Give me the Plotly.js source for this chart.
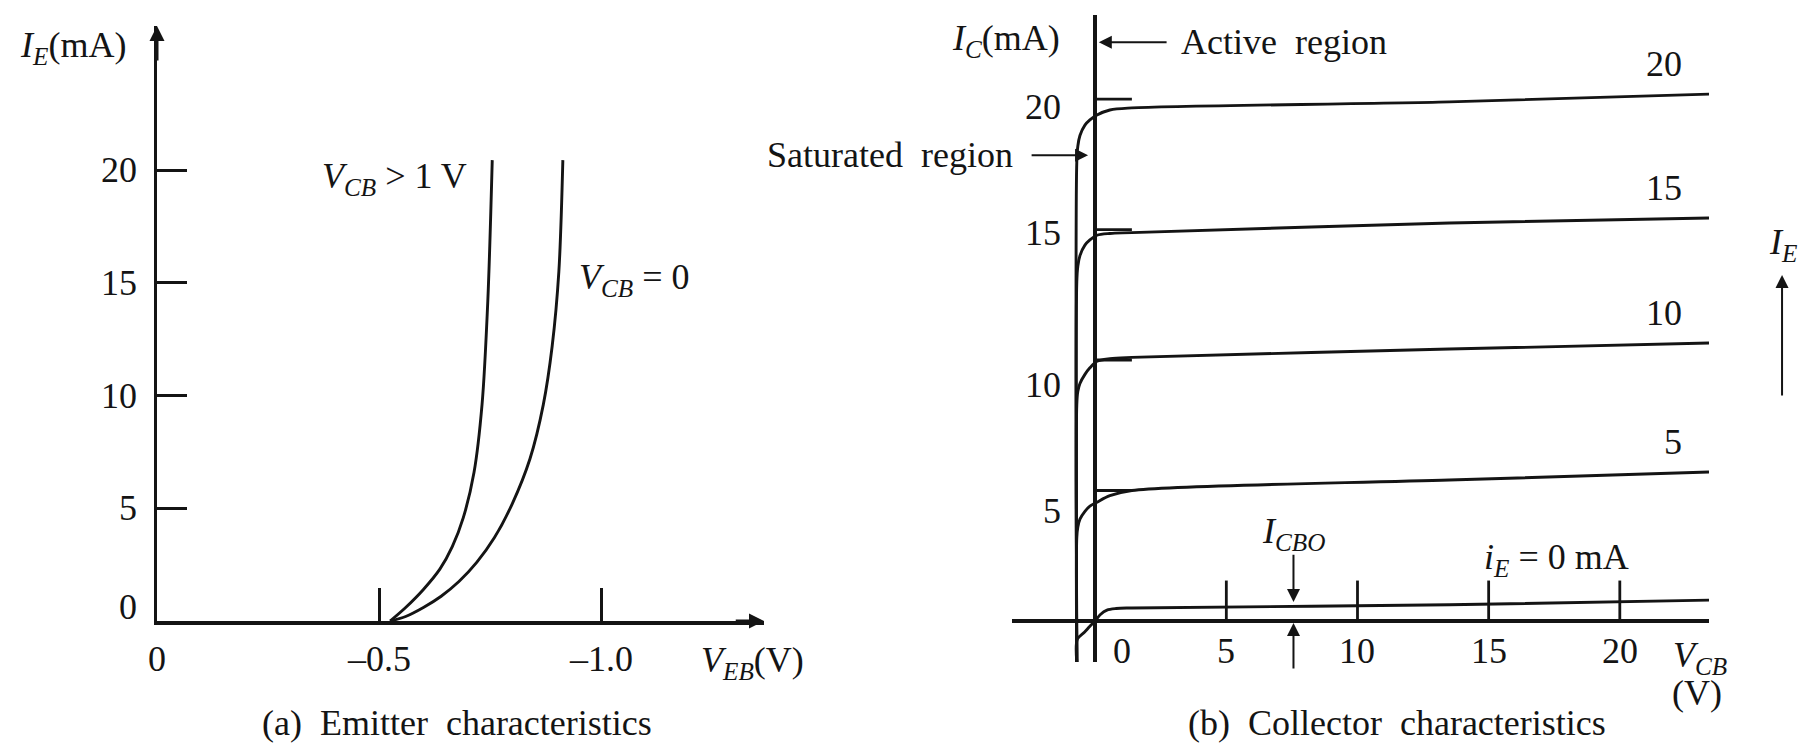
<!DOCTYPE html>
<html>
<head>
<meta charset="utf-8">
<script src="https://cdn.plot.ly/plotly-3.0.1.min.js"></script>
<style>
  html, body { margin: 0; padding: 0; background: #ffffff; }
  #chart { width: 1809px; height: 744px; }
</style>
</head>
<body>
<div id="chart"></div>
<script>
// ---------- (a) Emitter characteristics: I_E (mA) against V_EB (V) ----------
const vebActive = [-0.525, -0.56, -0.60, -0.637, -0.665, -0.69, -0.714, -0.732, -0.745, -0.755];
const ieActive  = [0, 0.6, 1.4, 2.3, 3.3, 4.6, 6.6, 9.6, 14.2, 20.45];
const vebZero   = [-0.525, -0.56, -0.60, -0.64, -0.68, -0.72, -0.76, -0.80, -0.84, -0.87, -0.89, -0.905, -0.914];
const ieZero    = [0, 0.2, 0.6, 1.1, 1.75, 2.6, 3.7, 5.2, 7.2, 9.6, 12.2, 15.5, 20.45];
const vebTicks    = [0, -0.5, -1.0];
const vebTickText = ['0', '–0.5', '–1.0'];
const ieTicks     = [0, 5, 10, 15, 20];

// ---------- (b) Collector characteristics: I_C (mA) against V_CB (V) ----------
const vcbCurve = [-0.7, -0.7, -0.66, -0.58, -0.39, -0.2, 0.07, 0.56, 1.4, 13.5, 23.4];
const icIE20   = [-1.57, 17.6, 18.2, 18.6, 19.0, 19.2, 19.39, 19.58, 19.66, 19.89, 20.19];
const icIE15   = [-1.57, 13.0, 13.6, 14.0, 14.4, 14.6, 14.78, 14.85, 14.88, 15.25, 15.44];
const icIE10   = [-1.57, 8.3, 8.8, 9.1, 9.45, 9.7, 9.95, 10.05, 10.1, 10.42, 10.65];
const icIE5    = [-1.57, 3.2, 3.6, 3.9, 4.2, 4.4, 4.55, 4.8, 5.0, 5.4, 5.71];
const vcbCutoff = [-0.7, -0.68, -0.4, -0.2, 0.0, 0.2, 0.45, 0.8, 1.4, 13.5, 23.4];
const icIE0     = [-1.57, -0.7, -0.42, -0.2, 0.0, 0.25, 0.42, 0.48, 0.5, 0.62, 0.8];
const emitterLevels = ['20', '15', '10', '5'];
const vcbTicks  = [0, 5, 10, 15, 20];
const icTicks   = [20, 15, 10, 5];
const icboVcb   = 7.56;

const INK = '#141414';
const FONT = { family: '"Liberation Serif", "Times New Roman", serif', size: 36, color: INK };

function curve(x, y, xa, ya) {
  return { x: x, y: y, xaxis: xa, yaxis: ya, type: 'scatter', mode: 'lines',
           line: { color: INK, width: 2.9, shape: 'spline', smoothing: 0.9 },
           hoverinfo: 'skip', showlegend: false };
}

// short tick marks on the collector axes, built as broken line segments
function tickSegments(vals, along, len) {
  const xs = [], ys = [];
  vals.forEach(v => {
    if (along === 'x') { xs.push(v, v, null); ys.push(0, len, null); }
    else { xs.push(0, len, null); ys.push(v, v, null); }
  });
  return { x: xs, y: ys };
}
const vTicks = tickSegments(vcbTicks.filter(v => v > 0), 'x', 1.55);
const hTicks = tickSegments(icTicks, 'y', 1.4);

const data = [
  curve(vebActive, ieActive, 'x', 'y'),
  curve(vebZero, ieZero, 'x', 'y'),
  curve(vcbCurve, icIE20, 'x2', 'y2'),
  curve(vcbCurve, icIE15, 'x2', 'y2'),
  curve(vcbCurve, icIE10, 'x2', 'y2'),
  curve(vcbCurve, icIE5, 'x2', 'y2'),
  curve(vcbCutoff, icIE0, 'x2', 'y2'),
  { x: vTicks.x, y: vTicks.y, xaxis: 'x2', yaxis: 'y2', mode: 'lines', connectgaps: false,
    line: { color: INK, width: 2.8 }, hoverinfo: 'skip', showlegend: false },
  { x: hTicks.x, y: hTicks.y, xaxis: 'x2', yaxis: 'y2', mode: 'lines', connectgaps: false,
    line: { color: INK, width: 2.8 }, hoverinfo: 'skip', showlegend: false }
];

const ann = [];
function text(t, props) {
  ann.push(Object.assign({ text: t, showarrow: false, font: FONT,
                           xanchor: 'center', yanchor: 'middle' }, props));
}
function arrow(props) {
  ann.push(Object.assign({ text: '', showarrow: true, arrowhead: 2, arrowsize: 1,
                           arrowwidth: 3, arrowcolor: INK, standoff: 0 }, props));
}

// (a) tick labels
ieTicks.forEach(v => text(String(v), { xref: 'x', yref: 'y', x: 0, y: v, xanchor: 'right',
                                       xshift: -18, yshift: v === 0 ? 14 : 0 }));
vebTicks.forEach((v, i) => text(vebTickText[i], { xref: 'x', yref: 'y', x: v, y: 0, yshift: -38 }));
// (a) axis titles, curve labels, caption
text('<i>I<sub>E</sub></i>(mA)', { xref: 'paper', yref: 'paper', x: 0.0405, y: 0.9368 });
text('<i>V<sub>EB</sub></i>(V)', { xref: 'paper', yref: 'paper', x: 0.4157, y: 0.1090 });
text('<i>V<sub>CB</sub></i> &gt; 1 V', { xref: 'paper', yref: 'paper', x: 0.2590, y: 0.760, xanchor: 'right' });
text('<i>V<sub>CB</sub></i> = 0', { xref: 'paper', yref: 'paper', x: 0.3510, y: 0.6237 });
text('(a)  Emitter  characteristics', { xref: 'paper', yref: 'paper', x: 0.2526, y: 0.0282 });
// (a) axis arrowheads
arrow({ xref: 'x', yref: 'y', axref: 'x', ayref: 'y', x: 0, y: 26.4, ax: 0, ay: 24.8 });
arrow({ xref: 'x', yref: 'y', axref: 'x', ayref: 'y', x: -1.367, y: 0, ax: -1.30, ay: 0 });

// (b) tick labels, each set just under its level
const icLabelDrop = [-8, -3, -25, -20];
icTicks.forEach((v, i) => text(String(v), { xref: 'x2', yref: 'y2', x: 0, y: v, xanchor: 'right',
                                            xshift: -32, yshift: icLabelDrop[i] }));
vcbTicks.forEach(v => text(String(v), { xref: 'x2', yref: 'y2', x: v, y: 0, yshift: -30,
                                        xshift: v === 0 ? 27 : 0 }));
// (b) curve labels for each emitter current
const curveEnds = [icIE20, icIE15, icIE10, icIE5];
emitterLevels.forEach((lbl, i) => {
  const ys = curveEnds[i];
  text(lbl, { xref: 'x2', yref: 'y2', x: 22.45, y: ys[ys.length - 1], xanchor: 'right', yshift: 30 });
});
text('<i>i<sub>E</sub></i> = 0 mA', { xref: 'x2', yref: 'y2', x: 17.6, y: 2.34 });
text('<i>I<sub>CBO</sub></i>', { xref: 'x2', yref: 'y2', x: icboVcb, y: 3.37 });
arrow({ xref: 'x2', yref: 'y2', axref: 'x2', ayref: 'y2', x: icboVcb, y: 0.73, ax: icboVcb, ay: 2.6,
        arrowwidth: 2, arrowsize: 1.3 });
arrow({ xref: 'x2', yref: 'y2', axref: 'x2', ayref: 'y2', x: icboVcb, y: -0.08, ax: icboVcb, ay: -1.88,
        arrowwidth: 2, arrowsize: 1.3 });
// (b) axis titles and region notes
text('<i>I<sub>C</sub></i>(mA)', { xref: 'paper', yref: 'paper', x: 0.5560, y: 0.9462 });
text('<i>V<sub>CB</sub></i>', { xref: 'paper', yref: 'paper', x: 0.9398, y: 0.1156 });
text('(V)', { xref: 'paper', yref: 'paper', x: 0.9381, y: 0.0685 });
text('Active  region', { xref: 'paper', yref: 'paper', x: 0.652, y: 0.9435, xanchor: 'left' });
arrow({ xref: 'x2', yref: 'y2', axref: 'x2', ayref: 'y2', x: 0.14, y: 22.18, ax: 2.78, ay: 22.18,
        arrowwidth: 2, arrowsize: 1.3 });
text('Saturated  region', { xref: 'paper', yref: 'paper', x: 0.5611, y: 0.7917, xanchor: 'right' });
arrow({ xref: 'x2', yref: 'y2', axref: 'x2', ayref: 'y2', x: -0.27, y: 17.85, ax: -2.48, ay: 17.85,
        arrowwidth: 2, arrowsize: 1.3 });
text('<i>I<sub>E</sub></i>', { xref: 'paper', yref: 'paper', x: 0.9856, y: 0.6707 });
arrow({ xref: 'paper', yref: 'paper', x: 0.9851, y: 0.6304, ax: 0, ay: 122,
        arrowwidth: 2, arrowsize: 1.3 });
text('(b)  Collector  characteristics', { xref: 'paper', yref: 'paper', x: 0.7723, y: 0.0282 });

const hidden = { showgrid: false, showticklabels: false, fixedrange: true };
const layout = {
  width: 1809, height: 744,
  margin: { l: 0, r: 0, t: 0, b: 0 },
  paper_bgcolor: '#ffffff', plot_bgcolor: 'rgba(0,0,0,0)',
  showlegend: false,
  font: FONT,
  xaxis: Object.assign({}, hidden, {
    domain: [0.08679, 0.42233], range: [0, -1.367], anchor: 'y',
    showline: true, linewidth: 3.5, linecolor: INK, zeroline: false,
    ticks: 'inside', tickvals: [-0.5, -1.0], ticklen: 33, tickwidth: 3, tickcolor: INK
  }),
  yaxis: Object.assign({}, hidden, {
    domain: [0.16532, 0.96505], range: [0, 26.4], anchor: 'x',
    showline: true, linewidth: 3.5, linecolor: INK, zeroline: false,
    ticks: 'inside', tickvals: ieTicks.filter(v => v > 0), ticklen: 30, tickwidth: 3, tickcolor: INK
  }),
  xaxis2: Object.assign({}, hidden, {
    domain: [0.55943, 0.94472], range: [-3.17, 23.4], anchor: 'y2',
    showline: false, ticks: '', zeroline: true, zerolinewidth: 3.5, zerolinecolor: INK
  }),
  yaxis2: Object.assign({}, hidden, {
    domain: [0.11022, 0.97984], range: [-1.571, 23.22], anchor: 'x2',
    showline: false, ticks: '', zeroline: true, zerolinewidth: 3.5, zerolinecolor: INK
  }),
  annotations: ann
};

Plotly.newPlot('chart', data, layout, { staticPlot: true, displayModeBar: false });
</script>
</body>
</html>
